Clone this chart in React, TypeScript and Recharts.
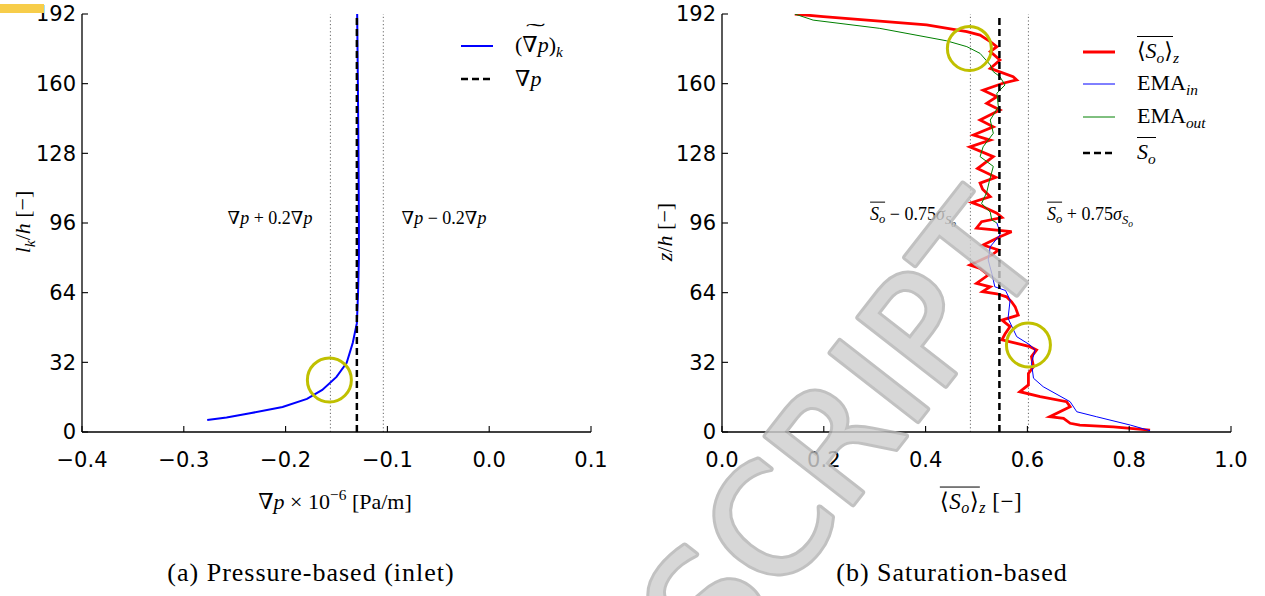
import React from "react";
import { LineChart, Line, XAxis, YAxis, ReferenceLine, ReferenceDot } from "recharts";

// shared axis ticks
const LEVEL_TICKS = [0, 32, 64, 96, 128, 160, 192];
const GRAD_TICKS = [-0.4, -0.3, -0.2, -0.1, 0.0, 0.1];
const SAT_TICKS = [0, 0.2, 0.4, 0.6, 0.8, 1.0];

// (a) pressure gradient per level (x1e-6 Pa/m)
const gradLevels = [5.5, 6.7, 8.6, 11.5, 15.2, 19.3, 25.3, 31.8, 41, 50, 64, 80, 96, 128, 160, 192];
const gradValues = [-0.277, -0.258, -0.235, -0.203, -0.179, -0.164, -0.15, -0.14, -0.134, -0.13, -0.1288, -0.128, -0.128, -0.1284, -0.129, -0.1297];
const gradMeanLevels = [0, 192];
const gradMeanValues = [-0.13, -0.13];
const GRAD_BAND = [-0.156, -0.104];
const GRAD_MARK = { x: -0.157, y: 23.9 };

// (b) slice-averaged oil saturation
const satLevels = [
  192, 190.8, 187, 183.9, 182.3, 179.3, 177, 174.7, 170.9, 167, 163.2, 161.7, 160.2, 157, 154, 151,
  147.9, 143.3, 140.2, 136.4, 134.1, 131, 126.5, 121, 117, 114.3, 111.5, 108.1, 105.4, 103.5, 100.5,
  98.5, 96.6, 93.6, 92, 89.7, 85.9, 83.6, 81.3, 76.7, 75.1, 72.1, 68.3, 66.7, 64.5, 63.5, 62.1, 59.8,
  57.5, 53.7, 51.4, 48.4, 45, 42.3, 40.7, 39.2, 37.7, 34.6, 30, 26.9, 21.6, 18.5, 16.2, 13.9, 11.6,
  7, 6.3, 4, 3.2, 2.4, 0.9,
];
const satValues = [
  0.143, 0.199, 0.402, 0.481, 0.507, 0.527, 0.54, 0.527, 0.546, 0.527, 0.572, 0.579, 0.552, 0.513, 0.54, 0.52,
  0.546, 0.507, 0.533, 0.494, 0.527, 0.487, 0.533, 0.502, 0.538, 0.507, 0.512, 0.527, 0.491, 0.513, 0.54,
  0.55, 0.51, 0.5, 0.569, 0.546, 0.513, 0.543, 0.53, 0.487, 0.507, 0.523, 0.5, 0.527, 0.512, 0.54, 0.559, 0.569,
  0.576, 0.582, 0.55, 0.566, 0.556, 0.55, 0.579, 0.605, 0.618, 0.608, 0.612, 0.602, 0.602, 0.585, 0.625, 0.677, 0.684,
  0.644, 0.671, 0.684, 0.703, 0.769, 0.841,
];
const emaInLevels = [96, 92, 90.5, 85.1, 79, 72.9, 66.7, 65, 60.6, 52.2, 43.8, 40, 37.7, 31.6, 24.7, 20.8, 13.9, 9.3, 7, 3.2, 0.6];
const emaInValues = [0.54, 0.546, 0.546, 0.527, 0.523, 0.53, 0.536, 0.557, 0.566, 0.562, 0.579, 0.605, 0.615, 0.608, 0.612, 0.631, 0.684, 0.697, 0.736, 0.802, 0.841];
const emaOutLevels = [192, 189.2, 185.4, 179.7, 177, 173.9, 168.6, 165.5, 163.2, 159.4, 155.6, 149.4, 143.3, 137.2, 131, 126.5, 122, 115, 110, 105, 101, 97.4, 96];
const emaOutValues = [0.143, 0.179, 0.31, 0.441, 0.481, 0.507, 0.527, 0.533, 0.546, 0.556, 0.54, 0.543, 0.527, 0.533, 0.513, 0.507, 0.533, 0.525, 0.52, 0.51, 0.527, 0.53, 0.54];
const satMeanLevels = [0, 192];
const satMeanValues = [0.545, 0.545];
const SAT_BAND = [0.488, 0.602];
const SAT_MARKS = [{ x: 0.486, y: 176.2 }, { x: 0.602, y: 40 }];

const zip = (xs: number[], ys: number[]) => xs.map((x, i) => ({ x, y: ys[i] }));

const serif = "'Liberation Serif', 'DejaVu Serif', serif";
const sans = "'DejaVu Sans', sans-serif";
const MARK_COLOR = "#c0c000";

const fmt1 = (v: number) => (v < 0 ? "\u2212" : "") + Math.abs(v).toFixed(1);

function Panel({
  xDomain,
  xTicks,
  children,
}: {
  xDomain: [number, number];
  xTicks: number[];
  children: React.ReactNode;
}) {
  const tickStyle = { fill: "#000", fontSize: 21, fontFamily: sans };
  const axisLine = { stroke: "#000", strokeWidth: 1.3 };
  const tickLine = { stroke: "#000", strokeWidth: 1.1 };
  return (
    <LineChart width={620} height={596} margin={{ top: 14, right: 29, bottom: 0, left: 0 }}>
      <XAxis
        type="number"
        dataKey="x"
        domain={xDomain}
        ticks={xTicks}
        interval={0}
        allowDataOverflow
        height={164}
        tickSize={-6}
        tickMargin={26}
        axisLine={axisLine}
        tickLine={tickLine}
        tick={tickStyle}
        tickFormatter={fmt1}
      />
      <XAxis
        xAxisId="t"
        orientation="top"
        type="number"
        dataKey="x"
        domain={xDomain}
        ticks={xTicks}
        interval={0}
        allowDataOverflow
        height={0}
        tickSize={-6}
        axisLine={axisLine}
        tickLine={tickLine}
        tick={false}
      />
      <YAxis
        type="number"
        domain={[0, 192]}
        ticks={LEVEL_TICKS}
        interval={0}
        allowDataOverflow
        width={82}
        tickSize={-6}
        tickMargin={12}
        axisLine={axisLine}
        tickLine={tickLine}
        tick={tickStyle}
      />
      <YAxis
        yAxisId="r"
        orientation="right"
        type="number"
        domain={[0, 192]}
        ticks={LEVEL_TICKS}
        interval={0}
        allowDataOverflow
        width={0}
        tickSize={-6}
        axisLine={axisLine}
        tickLine={tickLine}
        tick={false}
      />
      {children}
    </LineChart>
  );
}

const Abs = ({ x, y, size = 18, rotate = 0, spacing = 0, children }: { x: number; y: number; size?: number; rotate?: number; spacing?: number; children: React.ReactNode }) => (
  <div
    style={{
      position: "absolute",
      left: x,
      top: y,
      transform: `translate(-50%, -50%) rotate(${rotate}deg)`,
      fontFamily: serif,
      fontSize: size,
      letterSpacing: spacing,
      whiteSpace: "nowrap",
      lineHeight: 1,
      color: "#000",
    }}
  >
    {children}
  </div>
);

const Ov = ({ children }: { children: React.ReactNode }) => (
  <span style={{ borderTop: "1.6px solid #000", paddingTop: 1 }}>{children}</span>
);

const sub: React.CSSProperties = { fontSize: "0.7em", verticalAlign: "-0.3em" };

const LegendRow = ({ x, y, color, width, dash, children }: { x: number; y: number; color: string; width: number; dash?: string; children: React.ReactNode }) => (
  <div style={{ position: "absolute", left: x, top: y - 14, height: 28, display: "flex", alignItems: "center", fontFamily: serif, fontSize: 22, whiteSpace: "nowrap" }}>
    <svg width={32} height={28} style={{ display: "block" }}>
      <line x1={0} y1={14} x2={32} y2={14} stroke={color} strokeWidth={width} strokeDasharray={dash} />
    </svg>
    <span style={{ marginLeft: 22 }}>{children}</span>
  </div>
);

const Tilde = () => (
  <span style={{ position: "relative", display: "inline-block" }}>
    (∇<i>p</i>)
    <span style={{ position: "absolute", left: 0, right: 0, top: "-0.62em", textAlign: "center", transform: "scaleX(2.6)" }}>˜</span>
  </span>
);

const SigmaSo = () => (
  <>
    <i>σ</i>
    <span style={sub}>
      <i>S</i>
      <sub style={{ fontSize: "0.75em" }}>
        <i>o</i>
      </sub>
    </span>
  </>
);

export default function App() {
  return (
    <div style={{ position: "absolute", left: 0, top: 0, width: 1265, height: 596, background: "#fff", overflow: "hidden" }}>
      <div style={{ position: "absolute", left: 0, top: 0 }}>
        <Panel xDomain={[-0.4, 0.1]} xTicks={GRAD_TICKS}>
          <ReferenceLine x={GRAD_BAND[0]} stroke="#666" strokeWidth={1} strokeDasharray="1.2 2.4" />
          <ReferenceLine x={GRAD_BAND[1]} stroke="#666" strokeWidth={1} strokeDasharray="1.2 2.4" />
          <Line data={zip(gradValues, gradLevels)} dataKey="y" name="grad_k" stroke="#0000ff" strokeWidth={2} dot={false} isAnimationActive={false} />
          <Line data={zip(gradMeanValues, gradMeanLevels)} dataKey="y" name="grad" stroke="#000" strokeWidth={2.5} strokeDasharray="7 4" dot={false} isAnimationActive={false} />
          <ReferenceDot x={GRAD_MARK.x} y={GRAD_MARK.y} r={22} fill="none" stroke={MARK_COLOR} strokeWidth={3} />
        </Panel>
      </div>
      <div style={{ position: "absolute", left: 640, top: 0 }}>
        <Panel xDomain={[0, 1]} xTicks={SAT_TICKS}>
          <ReferenceLine x={SAT_BAND[0]} stroke="#666" strokeWidth={1} strokeDasharray="1.2 2.4" />
          <ReferenceLine x={SAT_BAND[1]} stroke="#666" strokeWidth={1} strokeDasharray="1.2 2.4" />
          <Line data={zip(satValues, satLevels)} dataKey="y" name="So_z" stroke="#ff0000" strokeWidth={2.8} dot={false} isAnimationActive={false} />
          <Line data={zip(emaInValues, emaInLevels)} dataKey="y" name="EMA_in" stroke="#0000ff" strokeWidth={1} dot={false} isAnimationActive={false} />
          <Line data={zip(emaOutValues, emaOutLevels)} dataKey="y" name="EMA_out" stroke="#008000" strokeWidth={1} dot={false} isAnimationActive={false} />
          <Line data={zip(satMeanValues, satMeanLevels)} dataKey="y" name="So" stroke="#000" strokeWidth={2.5} strokeDasharray="7 4" dot={false} isAnimationActive={false} />
          {SAT_MARKS.map((m, i) => (
            <ReferenceDot key={i} x={m.x} y={m.y} r={22} fill="none" stroke={MARK_COLOR} strokeWidth={3} />
          ))}
        </Panel>
      </div>

      {/* in-plot annotations */}
      <Abs x={270} y={218}>∇<i>p</i> + 0.2∇<i>p</i></Abs>
      <Abs x={444} y={218}>∇<i>p</i> − 0.2∇<i>p</i></Abs>
      <Abs x={913} y={217}>
        <Ov><i>S</i><span style={sub}><i>o</i></span></Ov> − 0.75<SigmaSo />
      </Abs>
      <Abs x={1090} y={217}>
        <Ov><i>S</i><span style={sub}><i>o</i></span></Ov> + 0.75<SigmaSo />
      </Abs>

      {/* legends */}
      <LegendRow x={461} y={46} color="#0000ff" width={2}><Tilde /><span style={sub}><i>k</i></span></LegendRow>
      <LegendRow x={461} y={79} color="#000" width={2.5} dash="7 4">∇<i>p</i></LegendRow>
      <LegendRow x={1083} y={52} color="#ff0000" width={3}>
        <Ov>⟨<i>S</i><span style={sub}><i>o</i></span>⟩</Ov><span style={sub}><i>z</i></span>
      </LegendRow>
      <LegendRow x={1083} y={84} color="#0000ff" width={1}>EMA<span style={sub}><i>in</i></span></LegendRow>
      <LegendRow x={1083} y={117} color="#008000" width={1}>EMA<span style={sub}><i>out</i></span></LegendRow>
      <LegendRow x={1083} y={153} color="#000" width={2.5} dash="7 4"><Ov><i>S</i><span style={sub}><i>o</i></span></Ov></LegendRow>

      {/* axis titles */}
      <Abs x={335} y={500} size={22}>∇<i>p</i> × 10<sup style={{ fontSize: "0.7em" }}>−6</sup> [Pa/m]</Abs>
      <Abs x={981} y={503} size={23} spacing={0.5}>
        <Ov>⟨<i>S</i><span style={sub}><i>o</i></span>⟩</Ov><span style={sub}><i>z</i></span> [−]
      </Abs>
      <Abs x={25} y={222} size={22} rotate={-90}><i>l</i><span style={sub}><i>k</i></span>/<i>h</i> [−]</Abs>
      <Abs x={665} y={232} size={22} rotate={-90}><i>z</i>/<i>h</i> [−]</Abs>

      {/* captions */}
      <Abs x={311} y={573} size={26} spacing={1}>(a) Pressure-based (inlet)</Abs>
      <Abs x={952} y={573} size={26} spacing={1}>(b) Saturation-based</Abs>

      {/* page decorations: corner tab and watermark */}
      <div style={{ position: "absolute", left: 0, top: 4, width: 44, height: 9, background: "#f7cd4a" }} />
      <svg width={1265} height={596} style={{ position: "absolute", left: 0, top: 0, pointerEvents: "none" }}>
        <text
          x={1050}
          y={252}
          transform="rotate(-52 1050 252)"
          textAnchor="end"
          fontFamily="DejaVu Sans"
          fontSize={152}
          fill="#cfcfcf"
          stroke="#b4b4b4"
          strokeWidth={6}
          strokeLinejoin="round"
          paintOrder="stroke"
          opacity={0.82}
        >
          MANUSCRIPT
        </text>
      </svg>
    </div>
  );
}
